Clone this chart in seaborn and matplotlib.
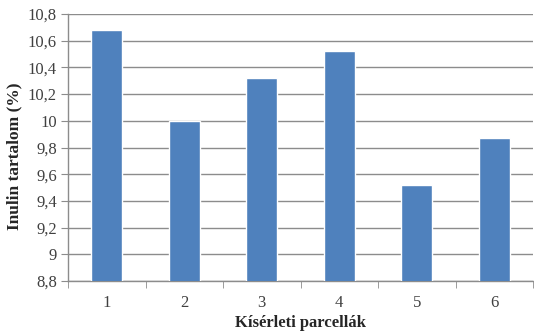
import matplotlib
matplotlib.use("Agg")
import matplotlib.pyplot as plt
import matplotlib.ticker as mticker
import seaborn as sns
import numpy as np

# Inulin content per experimental plot
parcellak = ["1", "2", "3", "4", "5", "6"]
inulin = [10.68, 10.00, 10.32, 10.52, 9.52, 9.87]
y_ticks = [8.8, 9.0, 9.2, 9.4, 9.6, 9.8, 10.0, 10.2, 10.4, 10.6, 10.8]

sns.set_style("white")
plt.rcParams["font.family"] = ["Liberation Serif", "DejaVu Serif"]

fig = plt.figure(figsize=(5.34, 3.33), dpi=100)
ax = fig.add_axes([68 / 534, 52 / 333, 465 / 534, 267 / 333])

sns.barplot(x=parcellak, y=inulin, color="#4F81BD", saturation=1,
            width=0.4, ax=ax, zorder=3)

ax.set_ylim(8.8, 10.8)
ax.set_xlim(-0.5, 5.5)
ax.set_yticks(y_ticks)
ax.yaxis.set_major_formatter(
    mticker.FuncFormatter(lambda v, _: f"{v:g}".replace(".", ",")))
ax.grid(axis="y", color="#8c8c8c", linewidth=1.0, zorder=0)
ax.set_axisbelow(True)

for side in ("top", "right"):
    ax.spines[side].set_visible(False)
for side in ("left", "bottom"):
    ax.spines[side].set_color("#8c8c8c")
    ax.spines[side].set_linewidth(1.0)

# category boundaries carry the x tick marks
ax.set_xticks(np.arange(-0.5, 6, 1.0), minor=True)
ax.tick_params(axis="x", which="major", length=0, pad=10,
               labelsize=12, labelcolor="#404040")
ax.tick_params(axis="x", which="minor", length=5, color="#8c8c8c",
               direction="out", bottom=True)
ax.tick_params(axis="y", length=5, color="#8c8c8c", direction="out",
               left=True, labelsize=12, labelcolor="#404040", pad=3)

ax.set_xlabel("Kísérleti parcellák", fontsize=12, fontweight="bold",
              labelpad=3)
ax.set_ylabel("Inulin tartalom (%)", fontsize=12.5, fontweight="bold")
ax.yaxis.set_label_coords(-0.098, 0.468)

fig.savefig("out.png", dpi=100)
